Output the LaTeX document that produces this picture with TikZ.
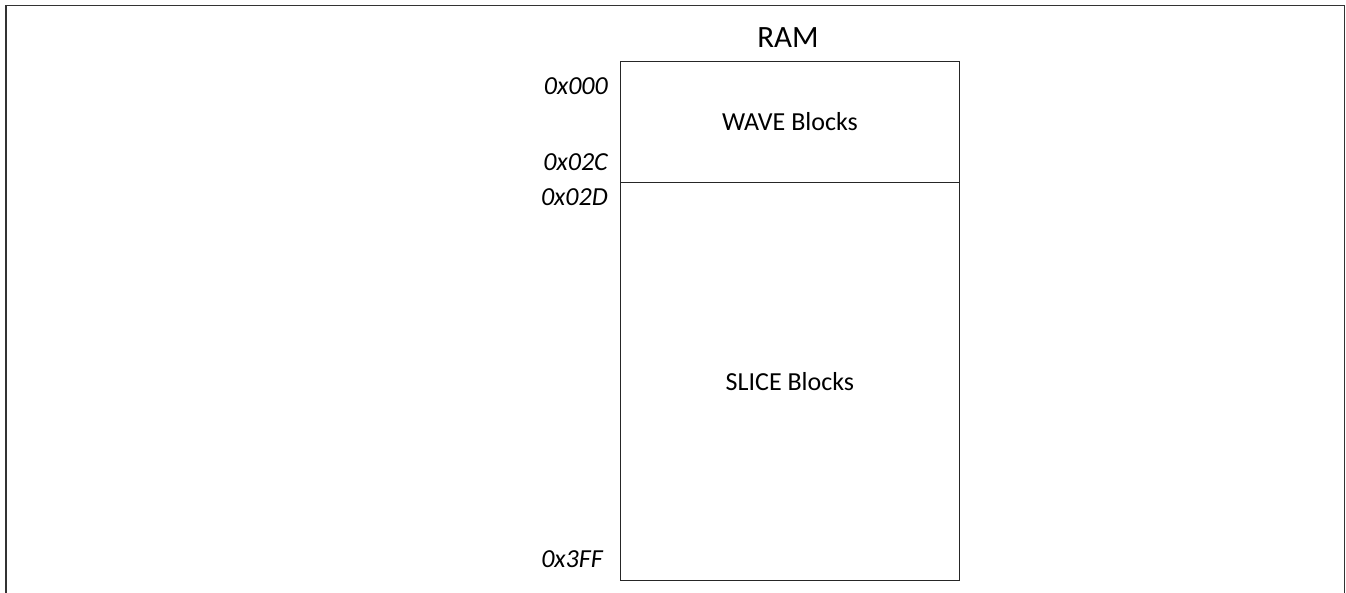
\documentclass[tikz,border=0pt]{standalone}
\usepackage{fontspec}
\setmainfont{Carlito}
\begin{document}
\begin{tikzpicture}[x=1pt,y=-1pt,
  region/.style={draw=black!85,line width=0.9pt,inner sep=0pt,minimum width=339pt,anchor=north west},
  regtext/.style={font=\fontsize{26}{30}\selectfont},
  addr/.style={anchor=east,inner sep=0pt,font=\fontsize{26}{30}\selectfont\itshape},
  frameline/.style={draw=black!80,line width=1.6pt}]
\useasboundingbox (0,0) rectangle (1346,593);
% open frame around the diagram
\draw[frameline] (6,593) -- (6,5.5) -- (1344.5,5.5) -- (1344.5,593);
% memory regions
\node[region,minimum height=121pt] (wave) at (620,60.7) {};
\node[region,minimum height=398.3pt] (slice) at (620,181.7) {};
\node[regtext] at (wave.center) {WAVE Blocks};
\node[regtext] at (slice.center) {SLICE Blocks};
\node[font=\fontsize{31}{35}\selectfont,anchor=base] (ram) at (788,47.5) {RAM};
% address labels
\node[addr] (a000) at (608,86) {0x000};
\node[addr] (a02c) at (608,162.5) {0x02C};
\node[addr] (a02d) at (608,197.5) {0x02D};
\node[addr] (a3ff) at (603,559) {0x3FF};
\end{tikzpicture}
\end{document}
